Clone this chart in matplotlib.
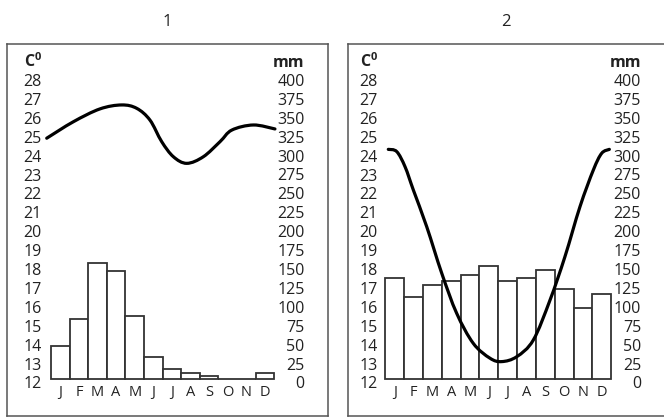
import matplotlib
matplotlib.use("Agg")
import matplotlib.pyplot as plt
from matplotlib.path import Path
from matplotlib.patches import PathPatch
from matplotlib import transforms

plt.rcParams['font.family'] = ['Open Sans', 'DejaVu Sans']
plt.rcParams['mathtext.fontset'] = 'custom'
plt.rcParams['mathtext.rm'] = 'Open Sans'
plt.rcParams['mathtext.bf'] = 'Open Sans:bold'

# ---- data -------------------------------------------------------------
months = ['J', 'F', 'M', 'A', 'M', 'J', 'J', 'A', 'S', 'O', 'N', 'D']
temp_ticks = list(range(12, 29))          # °C
rain_ticks = list(range(0, 401, 25))      # mm
titles = ['1', '2']

# monthly precipitation (mm)
rain_1 = [43, 79, 153, 143, 83, 29, 13, 8, 4, 0, 0, 8]
rain_2 = [134, 109, 124, 129, 138, 149, 129, 134, 144, 119, 94, 113]

# temperature curves: position in the year (month index) and value (°C)
temp_1_pos = [-0.73, 0.70, 2.13, 3.30, 4.11, 4.82, 5.45, 6.08, 6.80, 7.69,
              8.59, 9.22, 10.38, 11.54]
temp_1_val = [24.74, 25.61, 26.29, 26.50, 26.32, 25.70, 24.56, 23.76, 23.41,
              23.76, 24.56, 25.17, 25.44, 25.23]
temp_2_pos = [-0.34, 0.11, 0.55, 0.99, 1.70, 2.50, 3.29, 4.17, 5.06, 5.68,
              6.48, 7.36, 8.25, 9.04, 9.84, 10.55, 10.99, 11.40]
temp_2_val = [24.15, 24.03, 23.23, 22.00, 20.06, 17.59, 15.48, 13.89, 13.10,
              12.92, 13.18, 14.06, 16.18, 18.47, 21.12, 23.06, 23.94, 24.15]

# ---- layout (pixels) --------------------------------------------------
W, H = 664, 417
BASE_Y = 379.0     # pixel row of 12 °C / 0 mm
PX_PER_DEG = 18.9  # one °C step (= 25 mm)

panels = [
    dict(box=(7.0, 327.5, 43.7, 416.0), m0=60.3, step=18.6,
         rain=rain_1, tpos=temp_1_pos, tval=temp_1_val, title=titles[0],
         left_lab=42.0, head_left=24.0, right_lab=304.5, title_x=167),
    dict(box=(347.7, 668.0, 43.7, 416.0), m0=394.7, step=18.83,
         rain=rain_2, tpos=temp_2_pos, tval=temp_2_val, title=titles[1],
         left_lab=378.0, head_left=360.0, right_lab=641.0, title_x=506),
]

TICK_FS = 11.5
MONTH_FS = 10.5
EDGE = '#333333'


def smooth_path(xs, ys):
    """Catmull-Rom curve through the points, as cubic Bezier segments."""
    pts = list(zip(xs, ys))
    ext = [pts[0]] + pts + [pts[-1]]
    verts = [pts[0]]
    codes = [Path.MOVETO]
    for i in range(1, len(ext) - 2):
        p0, p1, p2, p3 = ext[i - 1], ext[i], ext[i + 1], ext[i + 2]
        c1 = (p1[0] + (p2[0] - p0[0]) / 6, p1[1] + (p2[1] - p0[1]) / 6)
        c2 = (p2[0] - (p3[0] - p1[0]) / 6, p2[1] - (p3[1] - p1[1]) / 6)
        verts += [c1, c2, p2]
        codes += [Path.CURVE4] * 3
    return Path(verts, codes)


fig = plt.figure(figsize=(W / 100, H / 100), dpi=100)

for p in panels:
    x0, x1, yt, yb = p['box']
    ax = fig.add_axes([x0 / W, (H - yb) / H, (x1 - x0) / W, (yb - yt) / H])
    t_bot = 12 - (yb - BASE_Y) / PX_PER_DEG
    t_top = 12 + (BASE_Y - yt) / PX_PER_DEG
    ax.set_xlim((x0 - p['m0']) / p['step'], (x1 - p['m0']) / p['step'])
    ax.set_ylim((t_bot - 12) * 25, (t_top - 12) * 25)

    axT = ax.twinx()
    axT.set_ylim(t_bot, t_top)

    for a in (ax, axT):
        a.set_xticks([])
        a.set_yticks([])
    for s in axT.spines.values():
        s.set_visible(False)
    for s in ax.spines.values():
        s.set_color('#555555')
        s.set_linewidth(1.1)

    # precipitation bars
    ax.bar(range(12), p['rain'], width=1.0, bottom=0, facecolor='white',
           edgecolor=EDGE, linewidth=1.3, zorder=2)

    # temperature curve
    axT.add_patch(PathPatch(smooth_path(p['tpos'], p['tval']), facecolor='none',
                            edgecolor='black', linewidth=2.3,
                            capstyle='round', zorder=3))

    # left (°C) scale
    bl_T = transforms.blended_transform_factory(axT.transAxes, axT.transData)
    lab_T = transforms.offset_copy(bl_T, fig=fig, x=0, y=-9.4, units='dots')
    lx = (p['left_lab'] - x0) / (x1 - x0)
    for v in temp_ticks:
        axT.text(lx, v, str(v), transform=lab_T, ha='right', va='baseline',
                 fontsize=TICK_FS, color='#222222')
    hx = (p['head_left'] - x0) / (x1 - x0)
    axT.text(hx, 29, r'$\mathbf{C^{0}}$', transform=lab_T, ha='left',
             va='baseline', fontsize=TICK_FS, color='#222222')

    # right (mm) scale
    bl_R = transforms.blended_transform_factory(ax.transAxes, ax.transData)
    lab_R = transforms.offset_copy(bl_R, fig=fig, x=0, y=-9.4, units='dots')
    rx = (p['right_lab'] - x0) / (x1 - x0)
    for v in rain_ticks:
        ax.text(rx, v, str(v), transform=lab_R, ha='right', va='baseline',
                fontsize=TICK_FS, color='#222222')
    ax.text(rx, 425, 'mm', transform=lab_R, ha='right', va='baseline',
            fontsize=TICK_FS, fontweight='bold', color='#222222')

    # month letters
    mon_tr = transforms.offset_copy(ax.transData, fig=fig, x=0, y=-17,
                                    units='dots')
    for i, m in enumerate(months):
        ax.text(i, 0, m, transform=mon_tr, ha='center', va='baseline',
                fontsize=MONTH_FS, color='#222222')

    fig.text(p['title_x'] / W, 1 - 22 / H, p['title'], ha='center',
             va='center', fontsize=12, color='#222222')

fig.savefig('out.png', dpi=100)
